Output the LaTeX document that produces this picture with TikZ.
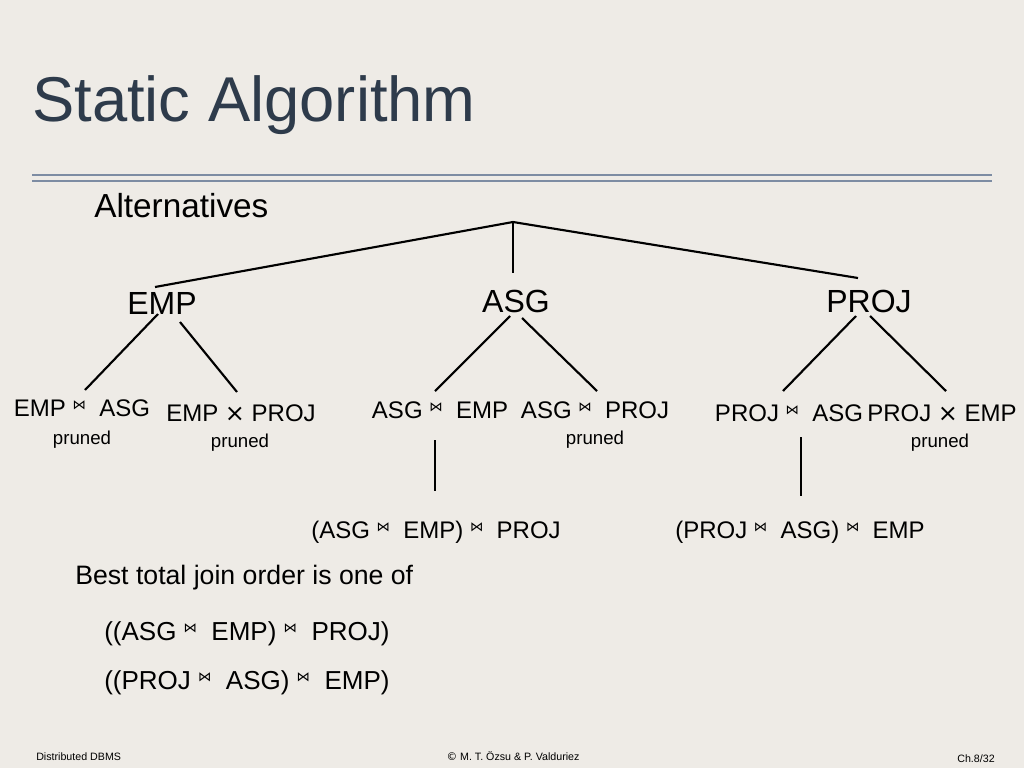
\documentclass[tikz,border=0pt]{standalone}
\usepackage{fontspec}
\setmainfont{Liberation Sans}
\newfontfamily\symfont{DejaVu Sans}
\definecolor{paper}{HTML}{EEEBE6}
\definecolor{rule}{HTML}{7D8CA3}
\definecolor{titlecol}{HTML}{2E3B4B}
\newcommand{\jn}{\ {\raisebox{0.55ex}{\symfont\fontsize{10}{10}\selectfont ⋈}}\ \ }
\tikzset{
  lbl/.style={inner sep=0pt, anchor=base},
  big/.style={lbl, font=\fontsize{18}{20}\selectfont},
  top/.style={lbl, font=\fontsize{24}{26}\selectfont},
  prn/.style={lbl, font=\fontsize{14}{16}\selectfont},
  edge/.style={line width=1.6pt, black}
}
\begin{document}
\begin{tikzpicture}[x=0.75pt, y=-0.75pt]
	\fill [paper] (0, 0) rectangle (1024, 768);
	\useasboundingbox (0, 0) rectangle (1024, 768);
	% title and rules
	\node [lbl, anchor=base west, text=titlecol, font=\fontsize{47.5}{50}\selectfont] (title) at (32, 121) {Static Algorithm};
	\draw [rule, line width=2.2pt] (32, 175) -- (992, 175);
	\draw [rule, line width=2.2pt] (32, 181) -- (992, 181);
	\node [lbl, anchor=base west, font=\fontsize{25}{28}\selectfont] (alt) at (94, 217) {Alternatives};
	% first level
	\node [top] (emp) at (162, 314) {EMP};
	\node [top] (asg) at (516, 312) {ASG};
	\node [top] (proj) at (869, 312) {PROJ};
	\coordinate (root) at (513, 222);
	\coordinate (lroot) at (155, 287);
	\coordinate (rroot) at (858, 278);
	\coordinate (vroot) at (513, 273);
	% second level
	\node [big] (ea) at (82, 416) {EMP\jn ASG};
	\node [big] (ep) at (241, 421) {EMP {\symfont ×} PROJ};
	\node [big] (ae) at (440, 418) {ASG\jn EMP};
	\node [big] (ap) at (595, 418) {ASG\jn PROJ};
	\node [big] (pa) at (789, 421) {PROJ\jn ASG};
	\node [big] (pe) at (942, 421) {PROJ {\symfont ×} EMP};
	\node [prn] (eap) at (82, 444) {pruned};
	\node [prn] (epp) at (240, 447) {pruned};
	\node [prn] (app) at (595, 444) {pruned};
	\node [prn] (pep) at (940, 447) {pruned};
	% third level
	\node [big] (aep) at (436, 538) {(ASG\jn EMP)\jn PROJ};
	\node [big] (pae) at (800, 538) {(PROJ\jn ASG)\jn EMP};
	% edges
	\draw [edge] (lroot) -- (root) -- (rroot);
	\draw [edge] (root) -- (vroot);
	\draw [edge] (158, 314) -- (85, 390);
	\draw [edge] (180, 322) -- (237, 392);
	\draw [edge] (510, 316) -- (435, 391);
	\draw [edge] (522, 318) -- (597, 391);
	\draw [edge] (856, 316) -- (783, 391);
	\draw [edge] (870, 316) -- (946, 391);
	\draw [edge] (435, 440) -- (435, 491);
	\draw [edge] (801, 437) -- (801, 496);
	% bottom text
	\node [lbl, anchor=base west, font=\fontsize{20}{22}\selectfont] (best) at (75, 584) {Best total join order is one of};
	\node [lbl, anchor=base west, font=\fontsize{19.5}{22}\selectfont] (alt1) at (104, 640) {((ASG\jn EMP)\jn PROJ)};
	\node [lbl, anchor=base west, font=\fontsize{19.5}{22}\selectfont] (alt2) at (104, 689) {((PROJ\jn ASG)\jn EMP)};
	% footer
	\node [lbl, anchor=base west, font=\fontsize{8}{9}\selectfont] (fl) at (36, 760) {Distributed DBMS};
	\node [lbl, font=\fontsize{8}{9}\selectfont] (fc) at (513, 760) {{\symfont ©} M. T. Özsu \& P. Valduriez};
	\node [lbl, font=\fontsize{8}{9}\selectfont] (fr) at (976, 762) {Ch.8/32};
\end{tikzpicture}
\end{document}
